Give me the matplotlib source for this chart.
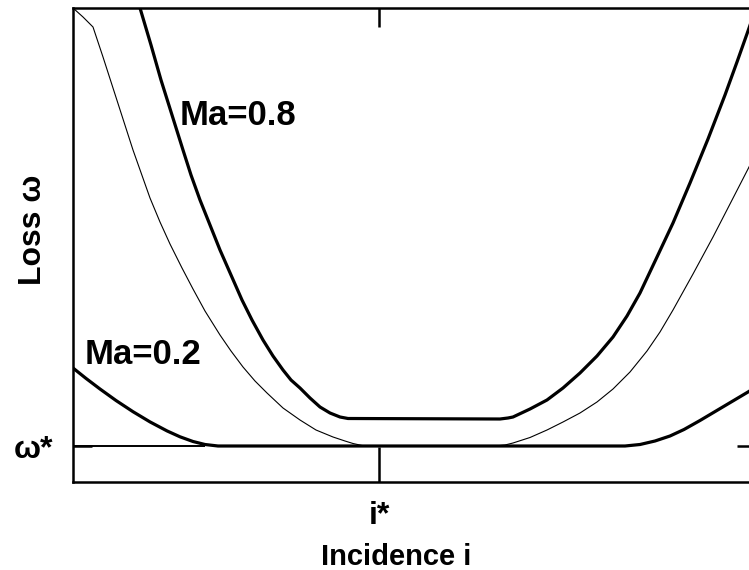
import matplotlib
matplotlib.use("Agg")
import matplotlib.pyplot as plt

plt.rcParams['font.family'] = ['Liberation Sans', 'DejaVu Sans']

# Incidence relative to i* (arbitrary units), loss relative to omega* (arbitrary units)
ma08_x = [-23.9, -22.8, -21.8, -20.7, -19.6, -18.8, -17.9, -16.9, -15.9, -14.8, -13.7,
          -12.7, -11.6, -10.6, -9.6, -8.8, -7.9, -6.9, -5.9, -4.9, -3.9, -3.1,
          12.1, 12.9, 13.4, 15.1, 16.8, 18.4, 20.1, 21.8, 23.4, 24.8, 26.1, 27.8, 29.4,
          31.1, 32.9, 34.6, 35.8, 36.9, 37.7]
ma08_y = [43.8, 40.1, 36.6, 33.1, 29.6, 27.1, 24.6, 22.1, 19.6, 17.1, 14.6,
          12.6, 10.6, 9.0, 7.6, 6.6, 5.8, 4.8, 3.9, 3.3, 2.9, 2.75,
          2.7, 2.8, 2.9, 3.7, 4.6, 5.8, 7.3, 9.0, 10.9, 13.0, 15.3, 18.9, 22.3,
          26.3, 30.7, 35.1, 38.4, 41.5, 43.8]

mid_x = [-30.6, -29.6, -28.6, -27.6, -26.6, -25.6, -24.6, -22.9, -21.9, -20.9,
         -19.7, -18.6, -17.4, -15.9, -14.8, -13.6, -12.4, -11.2, -9.6, -7.9, -6.3,
         -4.6, -3.4, -2.6, -1.7, -0.9,
         11.6, 12.6, 13.4, 15.1, 16.8, 18.4, 20.1, 21.8, 23.4, 25.1, 26.8, 28.1, 29.4,
         31.4, 33.4, 35.1, 36.9, 37.7]
mid_y = [43.8, 42.9, 41.9, 38.9, 35.8, 32.7, 29.6, 24.8, 22.4, 20.2,
         17.8, 15.7, 13.5, 11.1, 9.5, 7.9, 6.5, 5.3, 3.8, 2.6, 1.6,
         0.9, 0.5, 0.25, 0.05, 0.0,
         0.0, 0.1, 0.3, 0.85, 1.6, 2.4, 3.3, 4.4, 5.7, 7.4, 9.5, 11.4, 13.6,
         17.2, 20.9, 24.2, 27.7, 29.3]

ma02_x = [-30.6, -29.3, -27.9, -26.3, -24.6, -22.9, -21.2, -19.9, -18.6, -17.4, -16.1,
          24.6, 26.1, 27.6, 29.1, 30.5, 32.1, 33.7, 35.3, 36.9, 37.7]
ma02_y = [7.8, 6.76, 5.7, 4.55, 3.43, 2.41, 1.51, 0.92, 0.45, 0.15, 0.0,
          0.0, 0.15, 0.5, 1.0, 1.65, 2.55, 3.5, 4.45, 5.4, 5.9]

ref_x = [-30.6, -17.4]
ref_y = [0.0, 0.0]

x_ticks = [0]
x_ticklabels = ['i*']
y_ticks = [0]
y_ticklabels = ['ω*']

labels = [('Ma=0.8', -19.9, 32.1), ('Ma=0.2', -29.4, 8.2)]

W, H = 749, 570
fig = plt.figure(figsize=(W / 100, H / 100), dpi=100)
ax = fig.add_axes([73 / W, 1 - 482 / H, (756 - 73) / W, (482 - 8) / H])

ax.plot(ref_x, ref_y, color='black', lw=1.4, solid_capstyle='butt')
ax.plot(mid_x, mid_y, color='black', lw=0.8, solid_joinstyle='round')
ax.plot(ma08_x, ma08_y, color='black', lw=2.3, solid_joinstyle='round')
ax.plot(ma02_x, ma02_y, color='black', lw=2.3, solid_joinstyle='round')

for txt, tx, ty in labels:
    ax.text(tx, ty, txt, fontsize=25, fontweight='bold', ha='left', va='baseline')

ax.set_xlim(-30.6, 37.7)
ax.set_ylim(-3.6, 43.8)

ax.set_xticks(x_ticks)
ax.set_xticklabels(x_ticklabels, fontsize=23, fontweight='bold')
ax.set_yticks(y_ticks)
ax.set_yticklabels(y_ticklabels, fontsize=23, fontweight='bold')
ax.tick_params(axis='both', direction='in', length=14, width=1.8, pad=14,
               top=True, right=True)
for t in ax.xaxis.get_major_ticks():
    t.tick1line.set_markersize(25.5)

for s in ax.spines.values():
    s.set_linewidth(1.8)

fig.text(0.0441, 1 - 230 / H, 'Loss ω', rotation=90, ha='center', va='center',
         fontsize=23, fontweight='bold')
fig.text(396 / W, 5 / H, 'Incidence i', ha='center', va='baseline',
         fontsize=21, fontweight='bold')

fig.savefig('out.png', dpi=100)
